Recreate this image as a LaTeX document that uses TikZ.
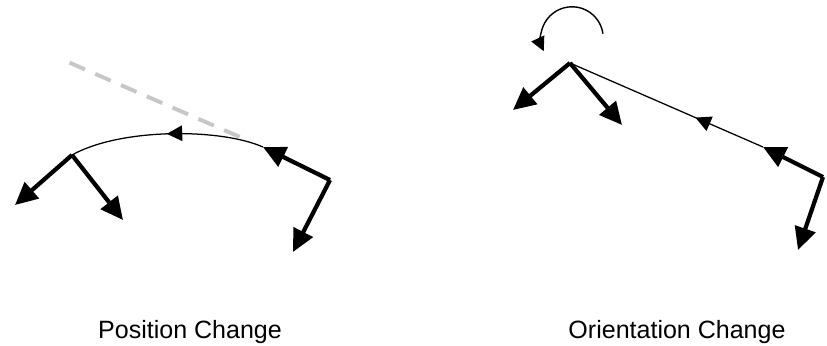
\documentclass[tikz,border=0pt]{standalone}
\usepackage{fontspec}
\setmainfont{Liberation Sans}
\usetikzlibrary{calc,arrows.meta,decorations.markings}

\begin{document}
\begin{tikzpicture}[x=0.025cm, y=-0.025cm, >=Stealth,
  axis/.style={line width=3pt, -{Triangle[length=16pt,width=15pt]}},
  track/.style={line width=0.9pt, postaction={decorate},
    decoration={markings, mark=at position #1 with {\arrow{Triangle[length=11pt,width=11pt]}}}},
  ghost/.style={line width=2.8pt, draw=black!22, dash pattern=on 12pt off 8pt},
  turn/.style={line width=1pt, -{Triangle[length=10pt,width=10pt]}},
  caption/.style={font=\fontsize{17.8}{21}\selectfont, anchor=base}]

  \useasboundingbox (0,0) rectangle (827,345);

  % position change
  \coordinate (start0) at (330,180);
  \coordinate (startx) at (263,147);
  \coordinate (starty) at (293,252);
  \coordinate (end0) at (72,155);
  \coordinate (endx) at (15,205);
  \coordinate (endy) at (123,220);
  \coordinate (ghostend) at (68,62);

  \draw [ghost] ($(startx)!0.12!(ghostend)$) -- (ghostend);
  \draw [track=0.5] (startx) .. controls (220,128) and (120,128) .. (end0);
  \draw [axis] (start0) -- (startx);
  \draw [axis] (start0) -- (starty);
  \draw [axis] (end0) -- (endx);
  \draw [axis] (end0) -- (endy);

  % orientation change
  \coordinate (base0) at (823,177);
  \coordinate (basex) at (763,147);
  \coordinate (basey) at (798,250);
  \coordinate (top0) at (570,63);
  \coordinate (topx) at (513,110);
  \coordinate (topy) at (622,125);
  \coordinate (spin) at (572,38);

  \draw [track=0.35] (basex) -- (top0);
  \draw [axis] (base0) -- (basex);
  \draw [axis] (base0) -- (basey);
  \draw [axis] (top0) -- (topx);
  \draw [axis] (top0) -- (topy);
  \draw [turn] ([shift={(8:0.78cm)}]spin) arc[start angle=8, end angle=205, radius=0.78cm];

  \node [caption] (poslabel) at (190,338) {Position Change};
  \node [caption] (orilabel) at (677,338) {Orientation Change};
\end{tikzpicture}
\end{document}
